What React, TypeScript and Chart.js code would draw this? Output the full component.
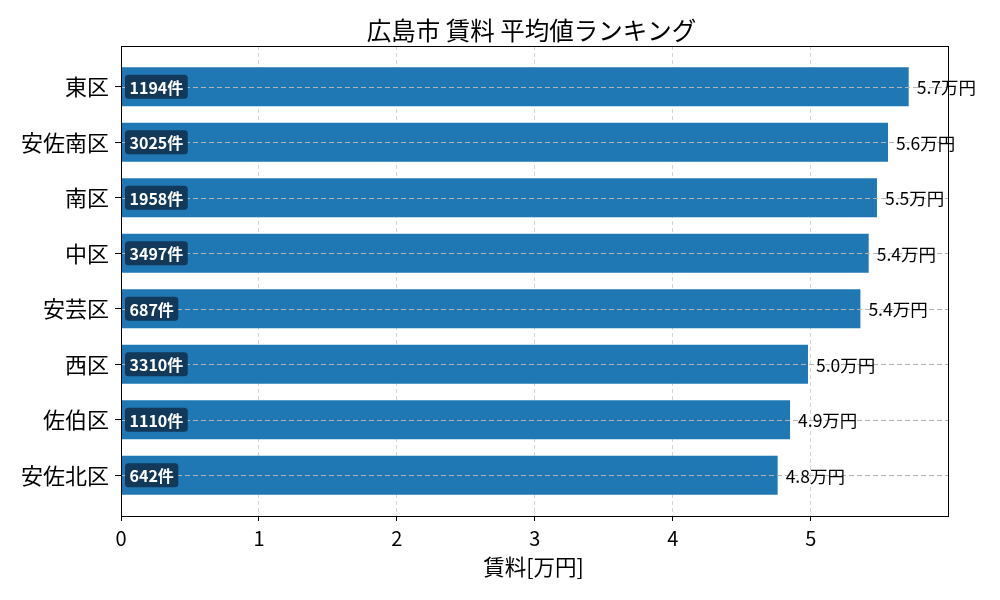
import React, { useEffect, useRef } from "react";
import { Chart, registerables } from "chart.js";

Chart.register(...registerables);

const FONT = "'Noto Sans CJK JP', 'Noto Sans', sans-serif";

// 区ごとの平均賃料 (万円) と件数
const wards = ["東区", "安佐南区", "南区", "中区", "安芸区", "西区", "佐伯区", "安佐北区"];
const avgRent = [5.71, 5.56, 5.48, 5.42, 5.36, 4.98, 4.85, 4.76];
const valueLabels = ["5.7万円", "5.6万円", "5.5万円", "5.4万円", "5.4万円", "5.0万円", "4.9万円", "4.8万円"];
const counts = ["1194件", "3025件", "1958件", "3497件", "687件", "3310件", "1110件", "642件"];
const xTicks = [0, 1, 2, 3, 4, 5];

const TITLE = "広島市 賃料 平均値ランキング";
const X_TITLE = "賃料[万円]";

const overlay = {
    id: "overlay",
    beforeDraw(chart: Chart) {
        const ctx = chart.ctx;
        ctx.save();
        ctx.fillStyle = "#fff";
        ctx.fillRect(0, 0, chart.width, chart.height);
        ctx.restore();
    },
    afterDatasetsDraw(chart: Chart) {
        const ctx = chart.ctx;
        const area = chart.chartArea;
        const yScale = chart.scales.y;
        const xScale = chart.scales.x;
        ctx.save();

        // horizontal dashed lines drawn on top of bars
        ctx.strokeStyle = "#b4b4b4";
        ctx.lineWidth = 1;
        ctx.setLineDash([5, 3]);
        wards.forEach((_, i) => {
            const y = Math.round(yScale.getPixelForValue(i)) + 0.5;
            ctx.beginPath();
            ctx.moveTo(area.left, y);
            ctx.lineTo(area.right, y);
            ctx.stroke();
        });
        ctx.setLineDash([]);

        // count badges
        ctx.font = `bold 16px ${FONT}`;
        ctx.textBaseline = "middle";
        counts.forEach((c, i) => {
            const y = yScale.getPixelForValue(i);
            const w = ctx.measureText(c).width + 9;
            const x = area.left + 4;
            ctx.fillStyle = "#12395a";
            ctx.beginPath();
            ctx.roundRect(x, y - 12, w, 24, 3.5);
            ctx.fill();
            ctx.fillStyle = "#fff";
            ctx.textAlign = "left";
            ctx.fillText(c, x + 4.5, y + 1);
        });

        // value labels at bar ends
        ctx.font = `17.5px ${FONT}`;
        ctx.fillStyle = "#000";
        avgRent.forEach((v, i) => {
            const y = yScale.getPixelForValue(i);
            ctx.fillText(valueLabels[i], xScale.getPixelForValue(v) + 8, y + 1);
        });

        // frame
        ctx.strokeStyle = "#000";
        ctx.lineWidth = 1;
        ctx.strokeRect(Math.round(area.left) + 0.5, Math.round(area.top) + 0.5,
            Math.round(area.right - area.left), Math.round(area.bottom - area.top));

        // titles
        const cx = (area.left + area.right) / 2;
        ctx.textAlign = "center";
        ctx.font = `24.5px ${FONT}`;
        ctx.fillText(TITLE, cx - 3, 31);
        ctx.font = `21.5px ${FONT}`;
        ctx.fillText(X_TITLE, cx - 1, 567);
        ctx.restore();
    },
};

export default function App() {
    const canvas = useRef<HTMLCanvasElement>(null);

    useEffect(() => {
        document.body.style.margin = "0";
        const chart = new Chart(canvas.current!.getContext("2d")!, {
            type: "bar",
            data: {
                datasets: [{
                    data: avgRent.map((v, i) => ({ x: v, y: i })),
                    backgroundColor: "#1f77b4",
                    barPercentage: 0.7,
                    categoryPercentage: 1.0,
                }],
            },
            options: {
                indexAxis: "y",
                responsive: false,
                animation: false,
                devicePixelRatio: 1,
                layout: { padding: { top: 46, right: 52, left: 0, bottom: 0 } },
                plugins: {
                    legend: { display: false },
                    tooltip: { enabled: false },
                },
                scales: {
                    x: {
                        type: "linear",
                        afterBuildTicks: (s: any) => {
                            s.ticks = xTicks.map((v) => ({ value: v }));
                            s.min = 0;
                            s.max = 5.995;
                        },
                        afterFit: (s: any) => { s.height = 84; },
                        ticks: {
                            color: "#000",
                            padding: 5,
                            font: { family: FONT, size: 20 },
                        },
                        grid: {
                            color: "#d4d4d4",
                            tickColor: "#000",
                            tickLength: 5,
                            tickBorderDash: [],
                        },
                        border: { display: true, color: "#000", dash: [4, 3] },
                    },
                    y: {
                        type: "linear",
                        reverse: true,
                        offset: false,
                        afterBuildTicks: (s: any) => {
                            s.ticks = wards.map((_, i) => ({ value: i }));
                            s.min = -0.735;
                            s.max = 7.735;
                        },
                        afterFit: (s: any) => { s.width = 121; },
                        ticks: {
                            autoSkip: false,
                            color: "#000",
                            padding: 6,
                            font: { family: FONT, size: 22 },
                            callback: (v: any) => wards[v] ?? "",
                        },
                        grid: {
                            offset: false,
                            drawOnChartArea: false,
                            tickColor: "#000",
                            tickLength: 6,
                        },
                        border: { display: true, color: "#000" },
                    },
                },
            },
            plugins: [overlay],
        });
        return () => chart.destroy();
    }, []);

    return (
        <div style={{ position: "absolute", left: 0, top: 0, width: 1000, height: 600 }}>
            <canvas ref={canvas} width={1000} height={600} />
        </div>
    );
}
